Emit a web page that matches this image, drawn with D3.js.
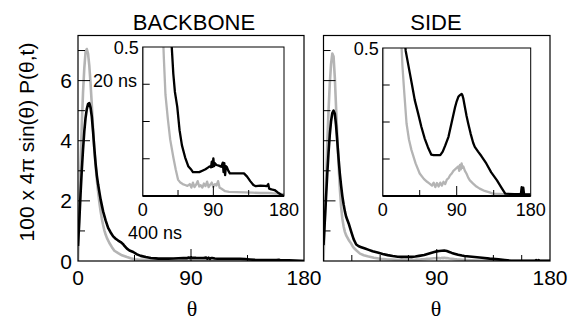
<!DOCTYPE html>
<html><head><meta charset="utf-8">
<script src="https://cdn.jsdelivr.net/npm/d3@7"></script>
<style>body{margin:0;background:#fff}svg{display:block}text{font-family:"Liberation Sans",Arial,Helvetica,sans-serif;fill:#000}</style>
</head><body><svg id="c" width="577" height="322"></svg>
<script>
// ---- data ----
const panelTitles = ["BACKBONE", "SIDE"];
const seriesLabels = ["20 ns", "400 ns"];
const mainYTicks = [1, 2, 3, 4, 5, 6, 7];
const mainYLabels = [0, 2, 4, 6];
const insetYTicks = [0.125, 0.25, 0.375];
const insetXTicks = [45, 90, 135];
const insetXLabels = [0, 90, 180];

const bb20Theta = [0,1,2,3,4,5,6,7,8,9,10,11,12,13,14,15,16,17,18,19,20,21,22,23,25,27,29,32,35,39,42,45,48,51,54,57,60,62,64,66,68,70,72,74,76,78,80,82,84,86,88,90,92,94,96,98,100,105,110,120,130,140,150,160,170,180];
const bb20 = [0,1.6,3.2,4.5,5.6,6.4,6.95,7.05,6.9,6.5,5.9,5.2,4.4,3.7,3.2,2.7,2.3,1.95,1.65,1.4,1.2,1.02,0.88,0.77,0.6,0.46,0.34,0.26,0.19,0.13,0.09,0.055,0.045,0.04,0.037,0.034,0.04,0.028,0.045,0.03,0.038,0.05,0.032,0.036,0.028,0.042,0.033,0.048,0.03,0.038,0.045,0.03,0.04,0.035,0.05,0.028,0.025,0.016,0.014,0.013,0.012,0.011,0.01,0.01,0.008,0.006];

const bb400Theta = [0,1,2,3,4,5,6,7,8,9,10,11,12,13,14,15,16,17,18,20,22,24,26,28,30,32,34,36,37,39,41,44,47,50,54,58,62,64,68,72,76,80,84,86,87,88,89,90,91,92,94,97,100,102,103,104,105,106,107,109,111,120,129,133,137,141,144,150,155,158,160,161,164,168,172,176,180];
const bb400 = [0.5,1.3,2.2,3.0,3.7,4.3,4.75,5.05,5.22,5.25,5.1,4.8,4.3,3.75,3.25,2.85,2.55,2.3,2.05,1.65,1.35,1.1,0.95,0.82,0.74,0.68,0.63,0.56,0.5,0.41,0.35,0.3,0.22,0.17,0.13,0.1,0.088,0.08,0.08,0.08,0.085,0.09,0.097,0.1,0.096,0.115,0.098,0.126,0.1,0.11,0.104,0.102,0.098,0.112,0.08,0.11,0.07,0.1,0.098,0.085,0.076,0.076,0.076,0.065,0.05,0.037,0.033,0.035,0.034,0.033,0.04,0.025,0.022,0.02,0.012,0.005,0];

const sd20Theta = [0,1,2,3,4,5,6,7,8,9,10,11,12,13,14,15,16,17,18,20,22,23,24,26,29,32,35,40,45,50,54,57,60,62,64,66,68,70,72,74,76,78,80,82,84,86,88,90,92,93,94,95,96,97,98,100,102,104,106,110,114,118,124,130,134,150,180];
const sd20 = [0,1.3,2.6,3.9,5.0,5.9,6.55,6.9,6.8,6.1,5.1,4.1,3.2,2.4,1.8,1.4,1.15,0.97,0.85,0.7,0.58,0.5,0.44,0.358,0.245,0.19,0.155,0.11,0.076,0.058,0.048,0.042,0.035,0.045,0.03,0.044,0.032,0.045,0.035,0.048,0.04,0.055,0.06,0.07,0.076,0.085,0.09,0.095,0.1,0.085,0.105,0.09,0.11,0.095,0.1,0.085,0.075,0.062,0.053,0.042,0.032,0.025,0.017,0.012,0.008,0.006,0.005];

const sd400Theta = [0,1,2,3,4,5,6,7,8,9,10,11,12,13,14,15,16,17,18,20,22,24,26,28,30,33,36,39,43,47,51,55,59,62,66,70,73,76,80,84,88,90,92,94,96,97,98,100,102,104,107,110,112,116,120,126,132,139,144,149,160,168,169,170,171,172,180];
const sd400 = [0.53,1.3,2.1,2.9,3.6,4.2,4.65,4.92,5.0,4.9,4.5,3.95,3.4,2.9,2.5,2.15,1.88,1.65,1.47,1.25,0.98,0.72,0.55,0.49,0.46,0.415,0.37,0.324,0.28,0.234,0.195,0.165,0.14,0.138,0.138,0.138,0.15,0.17,0.2,0.25,0.3,0.32,0.335,0.341,0.345,0.34,0.33,0.3,0.27,0.245,0.21,0.18,0.166,0.15,0.135,0.11,0.08,0.053,0.03,0.008,0.006,0.006,0.03,0.006,0.028,0.006,0.005];

// ---- layout ----
const layout = [
  {x0:78, x1:304, ix0:142.7, ix1:284, iy0:47, iy1:196, xMinor:[45,135], xLabels:[0,90,180], yLabels:true, titleX:194, thetaX:192,
   grey:[bb20Theta,bb20], black:[bb400Theta,bb400]},
  {x0:323.5, x1:550, ix0:382.7, ix1:530.7, iy0:48, iy1:196, xMinor:[22.5,45,67.5,112.5,135,157.5], xLabels:[90,180], yLabels:false, titleX:436, thetaX:436,
   grey:[sd20Theta,sd20], black:[sd400Theta,sd400]}
];
const GREY = "#b4b4b4";
const svg = d3.select("#c");
svg.append("rect").attr("width",577).attr("height",322).attr("fill","#fff");
const y = d3.scaleLinear().domain([0,7.5]).range([261,35.5]);

function pts(s){ return s[0].map((t,i)=>[t,s[1][i]]); }

layout.forEach((p,pi)=>{
  const x = d3.scaleLinear().domain([0,180]).range([p.x0,p.x1]);
  const g = svg.append("g");
  const line = d3.line().x(d=>x(d[0])).y(d=>y(d[1]));
  const cid = "clipm"+pi;
  svg.append("clipPath").attr("id",cid).append("rect").attr("x",p.x0).attr("y",y(7.5)).attr("width",p.x1-p.x0).attr("height",y(0)-y(7.5));
  g.append("path").attr("d",line(pts(p.grey))).attr("fill","none").attr("stroke",GREY).attr("stroke-width",2.6).attr("stroke-linejoin","round").attr("clip-path",`url(#${cid})`);
  g.append("path").attr("d",line(pts(p.black))).attr("fill","none").attr("stroke","#000").attr("stroke-width",2.6).attr("stroke-linejoin","round").attr("clip-path",`url(#${cid})`);
  // frame
  g.append("rect").attr("x",p.x0).attr("y",y(7.5)).attr("width",p.x1-p.x0).attr("height",y(0)-y(7.5)).attr("fill","none").attr("stroke","#000").attr("stroke-width",1.2);
  // y ticks
  mainYTicks.forEach(v=>{
    const L = v%2===0?12:7;
    g.append("line").attr("x1",p.x0).attr("x2",p.x0+L).attr("y1",y(v)).attr("y2",y(v)).attr("stroke","#000").attr("stroke-width",1);
  });
  // x ticks
  g.append("line").attr("x1",x(90)).attr("x2",x(90)).attr("y1",y(0)).attr("y2",y(0)-12).attr("stroke","#000");
  p.xMinor.forEach(v=>g.append("line").attr("x1",x(v)).attr("x2",x(v)).attr("y1",y(0)).attr("y2",y(0)-6).attr("stroke","#000"));
  // labels
  if(p.yLabels) mainYLabels.forEach(v=>g.append("text").attr("x",p.x0-6).attr("y",y(v)+7.5).attr("text-anchor","end").attr("font-size",21).text(v));
  p.xLabels.forEach(v=>g.append("text").attr("x",x(v)).attr("y",285).attr("text-anchor","middle").attr("font-size",21).text(v));
  g.append("text").attr("x",p.titleX).attr("y",30).attr("text-anchor","middle").attr("font-size",22).text(panelTitles[pi]);
  g.append("text").attr("x",p.thetaX).attr("y",316).attr("text-anchor","middle").attr("font-size",22).style("font-family","'Liberation Serif','Times New Roman',serif").text("θ");

  // inset
  const ix = d3.scaleLinear().domain([0,180]).range([p.ix0,p.ix1]);
  const iy = d3.scaleLinear().domain([0,0.5]).range([p.iy1,p.iy0]);
  const ig = svg.append("g");
  ig.append("rect").attr("x",p.ix0).attr("y",p.iy0).attr("width",p.ix1-p.ix0).attr("height",p.iy1-p.iy0).attr("fill","#fff");
  const icid = "clipi"+pi;
  svg.append("clipPath").attr("id",icid).append("rect").attr("x",p.ix0).attr("y",p.iy0).attr("width",p.ix1-p.ix0).attr("height",p.iy1-p.iy0);
  const iline = d3.line().x(d=>ix(d[0])).y(d=>iy(d[1]));
  ig.append("path").attr("d",iline(pts(p.grey))).attr("fill","none").attr("stroke",GREY).attr("stroke-width",2.3).attr("stroke-linejoin","round").attr("clip-path",`url(#${icid})`);
  ig.append("path").attr("d",iline(pts(p.black))).attr("fill","none").attr("stroke","#000").attr("stroke-width",2.3).attr("stroke-linejoin","round").attr("clip-path",`url(#${icid})`);
  ig.append("rect").attr("x",p.ix0).attr("y",p.iy0).attr("width",p.ix1-p.ix0).attr("height",p.iy1-p.iy0).attr("fill","none").attr("stroke","#000").attr("stroke-width",1);
  ig.append("line").attr("x1",p.ix0).attr("x2",p.ix1).attr("y1",p.iy1).attr("y2",p.iy1).attr("stroke","#000").attr("stroke-width",1.8);
  insetYTicks.forEach(v=>ig.append("line").attr("x1",p.ix0).attr("x2",p.ix0+7).attr("y1",iy(v)).attr("y2",iy(v)).attr("stroke","#000"));
  insetXTicks.forEach(v=>ig.append("line").attr("x1",ix(v)).attr("x2",ix(v)).attr("y1",p.iy1).attr("y2",p.iy1-(v===90?10:6)).attr("stroke","#000"));
  insetXLabels.forEach(v=>ig.append("text").attr("x",ix(v)).attr("y",216).attr("text-anchor","middle").attr("font-size",18).text(v));
  ig.append("text").attr("x",p.ix0-4).attr("y",p.iy0+7).attr("text-anchor","end").attr("font-size",18).text("0.5");
});

// series annotations (left panel)
svg.append("text").attr("x",93).attr("y",87).attr("font-size",18).text(seriesLabels[0]);
svg.append("text").attr("x",128).attr("y",239).attr("font-size",18).text(seriesLabels[1]);

// y-axis title
svg.append("text").attr("transform","translate(34,142) rotate(-90)").attr("text-anchor","middle").attr("font-size",21).text("100 x 4π sin(θ) P(θ,t)");
</script></body></html>
